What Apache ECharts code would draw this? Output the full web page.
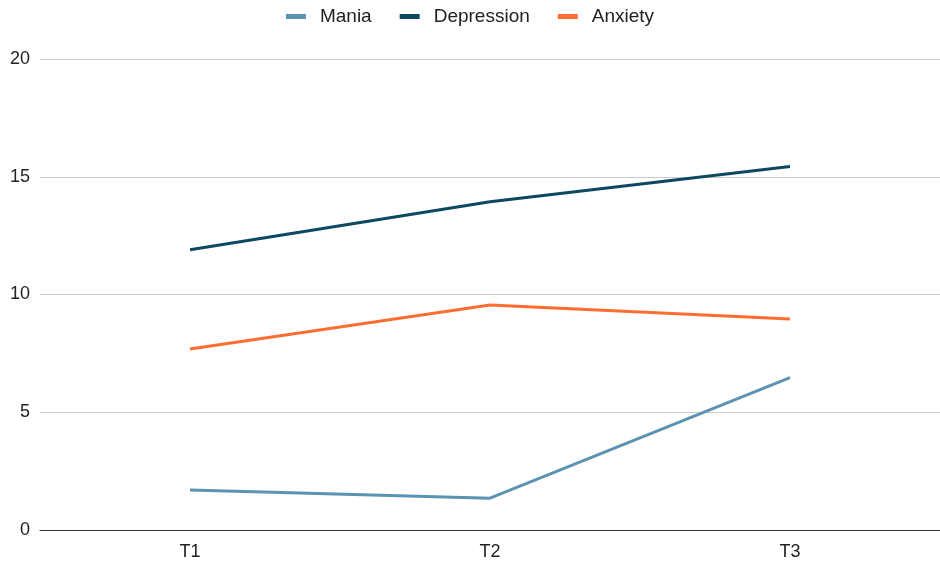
<!DOCTYPE html>
<html>
<head>
<meta charset="utf-8">
<script src="https://cdn.jsdelivr.net/npm/echarts@6/dist/echarts.min.js"></script>
<style>
  html, body { margin: 0; padding: 0; background: #fff; }
  #chart { width: 940px; height: 562px; }
</style>
</head>
<body>
<div id="chart"></div>
<script>
// Time points and symptom scores
const timePoints = ['T1', 'T2', 'T3'];
const mania = [1.7, 1.35, 6.47];
const depression = [11.9, 13.94, 15.44];
const anxiety = [7.69, 9.55, 8.96];

const colors = {
  Mania: '#5b93b3',
  Depression: '#0c4961',
  Anxiety: '#ff6d31'
};

const chart = echarts.init(document.getElementById('chart'));

function lineSeries(name, data) {
  return {
    name: name,
    type: 'line',
    data: data,
    symbol: 'none',
    color: colors[name],
    lineStyle: { width: 3, color: colors[name] },
    emphasis: { disabled: true }
  };
}

chart.setOption({
  animation: false,
  textStyle: { fontFamily: 'Liberation Sans, Arial, sans-serif' },
  legend: {
    top: 2,
    left: 'center',
    itemWidth: 20,
    itemHeight: 5,
    itemGap: 28,
    icon: 'rect',
    textStyle: { fontSize: 19, color: '#222', padding: [0, 0, 0, 9] },
    data: ['Mania', 'Depression', 'Anxiety']
  },
  grid: { left: 40, right: 0, top: 59, bottom: 32, containLabel: false },
  xAxis: {
    type: 'category',
    data: timePoints,
    boundaryGap: true,
    axisLine: { show: true, lineStyle: { color: '#333', width: 1 } },
    axisTick: { show: false },
    axisLabel: { fontSize: 18, color: '#222', margin: 13 }
  },
  yAxis: {
    type: 'value',
    min: 0,
    max: 20,
    interval: 5,
    axisLine: { show: false },
    axisTick: { show: false },
    axisLabel: { fontSize: 18, color: '#222', margin: 10 },
    splitLine: { lineStyle: { color: '#cccccc', width: 1 } }
  },
  series: [
    lineSeries('Mania', mania),
    lineSeries('Depression', depression),
    lineSeries('Anxiety', anxiety)
  ]
});
</script>
</body>
</html>
